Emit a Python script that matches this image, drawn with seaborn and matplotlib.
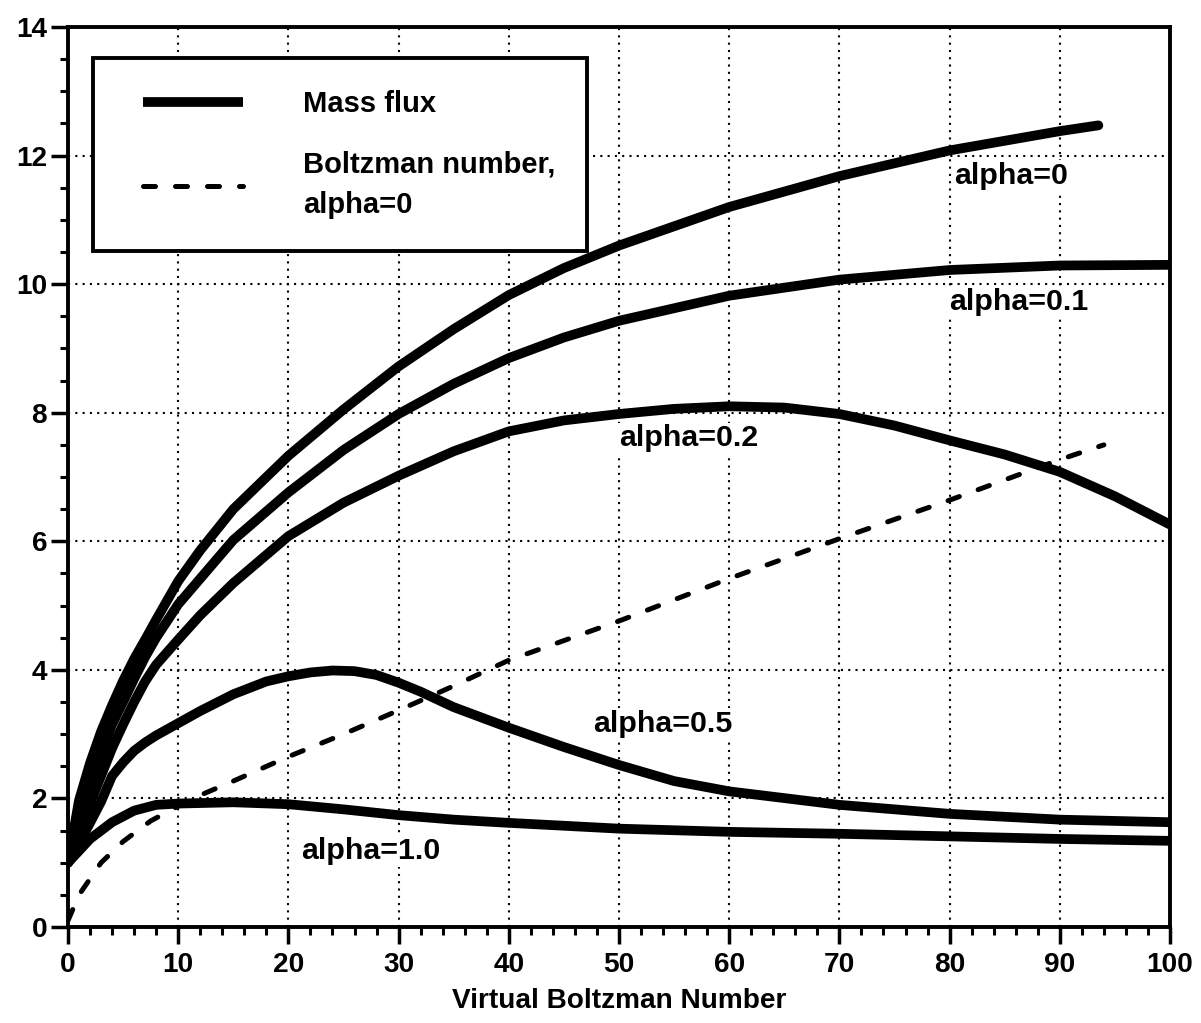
import pandas as pd
import matplotlib
matplotlib.use("Agg")
import matplotlib.pyplot as plt
from matplotlib import font_manager
from matplotlib.lines import Line2D
from matplotlib.legend_handler import HandlerLine2D
from matplotlib.ticker import MultipleLocator
import seaborn as sns

# mass flux curves
vb_a0 = [0, 1, 2, 3, 4, 5, 6, 7, 8, 10, 12, 15, 20, 25, 30, 35, 40, 45, 50, 60, 70, 80, 90, 93.5]
flux_a0 = [1.0, 1.97, 2.55, 3.04, 3.45, 3.83, 4.17, 4.47, 4.78, 5.38, 5.86, 6.5, 7.33, 8.05,
           8.72, 9.3, 9.83, 10.25, 10.6, 11.2, 11.68, 12.08, 12.38, 12.47]

vb_a01 = [0, 1, 2, 3, 4, 5, 6, 7, 8, 10, 12, 15, 20, 25, 30, 35, 40, 45, 50, 60, 70, 80, 90, 100]
flux_a01 = [1.0, 1.65, 2.2, 2.7, 3.15, 3.5, 3.86, 4.2, 4.5, 5.02, 5.42, 6.02, 6.76, 7.42,
            7.98, 8.45, 8.85, 9.17, 9.43, 9.82, 10.07, 10.22, 10.29, 10.3]

vb_a02 = [0, 1, 2, 3, 4, 5, 6, 7, 8, 10, 12, 15, 20, 25, 30, 35, 40, 45, 50, 55, 60, 65,
          70, 75, 80, 85, 90, 95, 100]
flux_a02 = [1.0, 1.5, 1.92, 2.35, 2.78, 3.15, 3.5, 3.82, 4.08, 4.47, 4.85, 5.35, 6.08, 6.6,
            7.02, 7.4, 7.71, 7.88, 7.98, 8.06, 8.1, 8.08, 7.98, 7.8, 7.57, 7.35, 7.08, 6.7, 6.26]

vb_a05 = [0, 1, 2, 3, 4, 5, 6, 7, 8, 10, 12, 15, 18, 20, 22, 24, 26, 28, 30, 32, 35, 40, 45,
          50, 55, 60, 70, 80, 90, 100]
flux_a05 = [1.0, 1.3, 1.62, 1.95, 2.35, 2.56, 2.74, 2.87, 2.98, 3.17, 3.36, 3.62, 3.82, 3.9,
            3.96, 3.99, 3.98, 3.92, 3.8, 3.66, 3.42, 3.1, 2.8, 2.52, 2.27, 2.11, 1.9, 1.76,
            1.67, 1.63]

vb_a10 = [0, 2, 4, 6, 8, 10, 15, 20, 25, 30, 35, 40, 50, 60, 70, 80, 90, 100]
flux_a10 = [1.0, 1.37, 1.63, 1.81, 1.9, 1.92, 1.94, 1.91, 1.83, 1.74, 1.67, 1.62, 1.53,
            1.48, 1.45, 1.41, 1.37, 1.34]

# Boltzman number for alpha=0 (dashed)
vb_bz = [0, 1, 3, 5, 7.5, 10, 12, 15, 20, 25, 30, 35, 40, 50, 60, 70, 80, 90, 94]
bz = [0.1, 0.5, 1.0, 1.33, 1.65, 1.88, 2.05, 2.27, 2.65, 3.0, 3.37, 3.75, 4.15, 4.76,
      5.42, 6.04, 6.64, 7.27, 7.5]

curve_names = ["alpha=0", "alpha=0.1", "alpha=0.2", "alpha=0.5", "alpha=1.0"]
curve_x = [vb_a0, vb_a01, vb_a02, vb_a05, vb_a10]
curve_y = [flux_a0, flux_a01, flux_a02, flux_a05, flux_a10]

rows = []
for name, xs, ys in zip(curve_names, curve_x, curve_y):
    rows += [(name, a, b) for a, b in zip(xs, ys)]
mass = pd.DataFrame(rows, columns=["curve", "vb", "flux"])
boltz = pd.DataFrame({"vb": vb_bz, "bz": bz})

sns.set_theme(style="ticks")
installed = {f.name for f in font_manager.fontManager.ttflist}
if "Liberation Sans Narrow" in installed:
    fam, k = "Liberation Sans Narrow", 1.0
else:
    fam, k = "Liberation Sans", 0.84
plt.rcParams["font.family"] = [fam, "DejaVu Sans"]
plt.rcParams["font.weight"] = "bold"
plt.rcParams["text.color"] = "black"
plt.rcParams["axes.labelcolor"] = "black"
plt.rcParams["xtick.color"] = "black"
plt.rcParams["ytick.color"] = "black"

fig = plt.figure(figsize=(12.01, 10.23), dpi=100)
ax = fig.add_axes([68 / 1201, 96 / 1023, 1102 / 1201, 900 / 1023])

dash_pat = (0, (2.4, 4.0))
sns.lineplot(data=mass, x="vb", y="flux", units="curve", estimator=None, sort=False,
             color="black", lw=7, solid_capstyle="round", solid_joinstyle="round",
             legend=False, ax=ax, zorder=3)
sns.lineplot(data=boltz, x="vb", y="bz", sort=False, color="black", lw=3.6,
             linestyle=dash_pat, dash_capstyle="round", legend=False, ax=ax, zorder=3)

ax.set_xlim(0, 100)
ax.set_ylim(0, 14)
ax.xaxis.set_major_locator(MultipleLocator(10))
ax.xaxis.set_minor_locator(MultipleLocator(2))
ax.yaxis.set_major_locator(MultipleLocator(2))
ax.yaxis.set_minor_locator(MultipleLocator(0.5))
ax.set_axisbelow(True)
ax.grid(True, which="major", color="black", lw=1.5, linestyle=(0, (1, 2.5)))

for s in ax.spines.values():
    s.set_visible(True)
    s.set_color("black")
    s.set_linewidth(2.8)
ax.tick_params(which="major", direction="out", length=12, width=2.5)
ax.tick_params(which="minor", direction="out", length=6, width=2.2)
ax.tick_params(axis="x", pad=6, labelsize=24 * k)
ax.tick_params(axis="y", pad=3, labelsize=24 * k)
ax.set_xlabel("Virtual Boltzman Number", fontsize=24 * k, fontweight="bold", labelpad=7)
ax.set_ylabel("")

# curve labels sit on white patches that break the grid
lab_x = [85.6, 86.3, 56.3, 54.0, 27.5]
lab_y = [11.69, 9.73, 7.6, 3.16, 1.18]
for name, tx, ty in zip(curve_names, lab_x, lab_y):
    ax.text(tx, ty, name, ha="center", va="center", fontsize=26 * k, fontweight="bold",
            bbox=dict(fc="white", ec="none", pad=1), zorder=1.5)

# legend, box geometry measured in pixels on the original
fs_leg = 25 * k
em = fs_leg * 100 / 72
h_solid = Line2D([], [], color="black", lw=7, solid_capstyle="butt")
h_dash = Line2D([], [], color="black", lw=3.6, linestyle=dash_pat, dash_capstyle="round")
leg = ax.legend([h_solid, h_dash], ["Mass flux", "Boltzman number,\nalpha=0"],
                loc="upper left", bbox_to_anchor=(25 / 1102, 1 - 31 / 900), borderaxespad=0,
                fontsize=fs_leg, frameon=True, fancybox=False, framealpha=1,
                edgecolor="black", facecolor="white", borderpad=32 / em,
                handlelength=118 / em, handletextpad=60 / em, labelspacing=33 / em,
                handler_map={h_solid: HandlerLine2D(xpad=18 / em),
                             h_dash: HandlerLine2D(xpad=18 / em)})
leg.get_frame().set_linewidth(2.8)
leg.set_zorder(5)
for t in leg.get_texts():
    t.set_fontweight("bold")
    t.set_linespacing(1.55)

fig.savefig("out.png", dpi=100, facecolor="white")
